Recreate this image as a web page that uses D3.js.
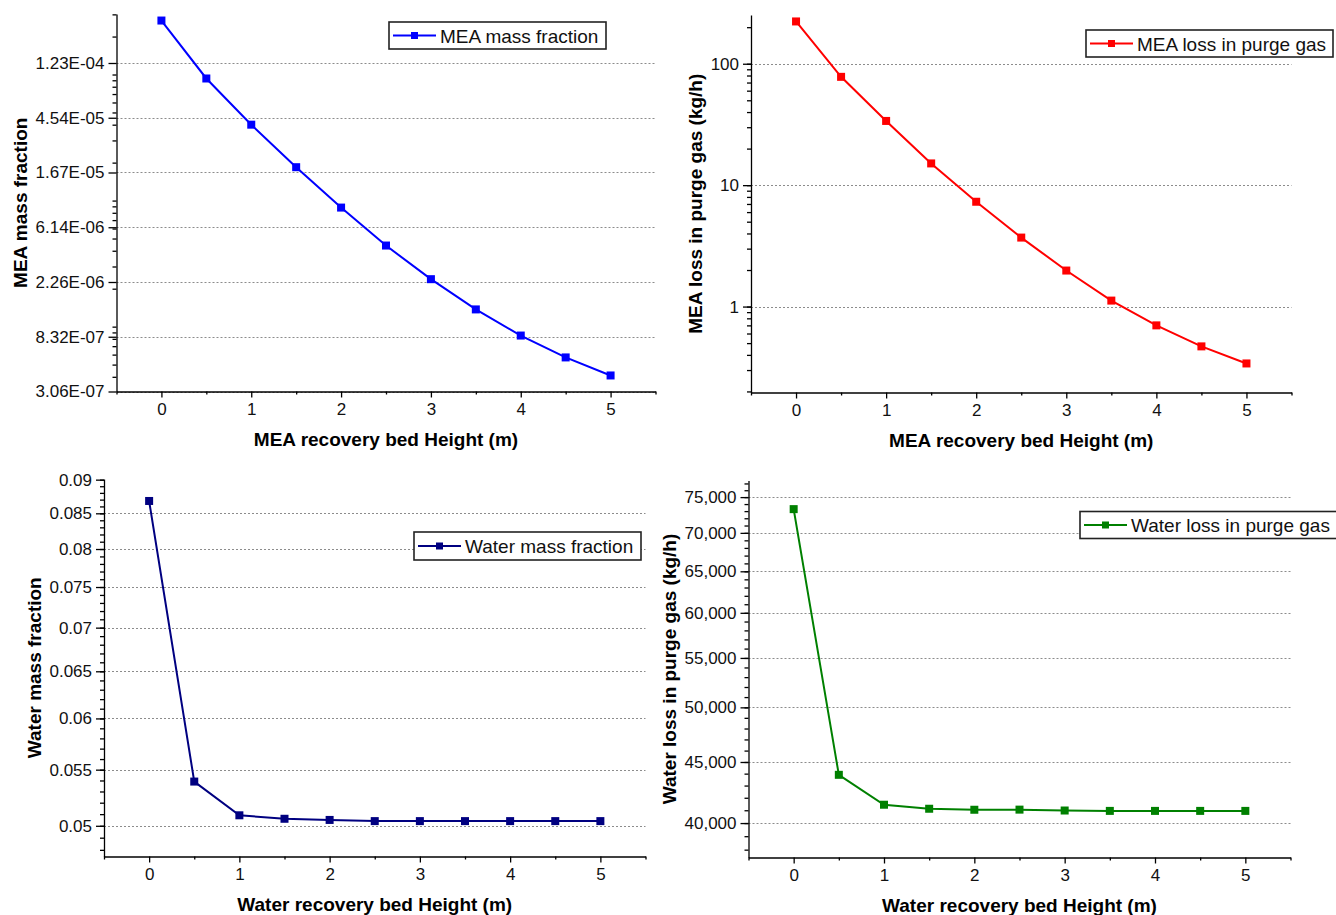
<!DOCTYPE html>
<html>
<head>
<meta charset="utf-8">
<script src="https://cdn.jsdelivr.net/npm/d3@7"></script>
<style>
  body { margin: 0; background: #fff; }
  svg { display: block; font-family: 'Liberation Sans', Arial, sans-serif; }
</style>
</head>
<body>
<div id="graphic"></div>
<script>
'use strict';

// bed heights (m), shared by all four panels
const bedHeight = [0, 0.5, 1, 1.5, 2, 2.5, 3, 3.5, 4, 4.5, 5];

// series
const meaMassFraction = [2.68e-4, 9.3e-5, 4.0e-5, 1.84e-5, 8.8e-6, 4.4e-6, 2.38e-6, 1.37e-6, 8.5e-7, 5.7e-7, 4.1e-7];
const meaLoss = [223, 78, 33.8, 15.1, 7.3, 3.7, 1.98, 1.12, 0.7, 0.47, 0.34];
const waterMassFraction = [0.0868, 0.0539, 0.0509, 0.0506, 0.0505, 0.0504, 0.0504, 0.0504, 0.0504, 0.0504, 0.0504];
const waterLoss = [73280, 43900, 41440, 41120, 41040, 41050, 40980, 40950, 40950, 40950, 40950];

// tick values
const xTicks = [0, 1, 2, 3, 4, 5];
const meaFracTicks = [-15, -14, -13, -12, -11, -10, -9].map(Math.exp); // e^n, as the original axis
const meaLossTicks = [1, 10, 100];
const waterFracTicks = [0.05, 0.055, 0.06, 0.065, 0.07, 0.075, 0.08, 0.085, 0.09];
const waterLossTicks = [40000, 45000, 50000, 55000, 60000, 65000, 70000, 75000];

const width = 1336;
const height = 915;

const svg = d3
  .select('#graphic')
  .append('svg')
  .attr('width', width)
  .attr('height', height)
  .attr('viewBox', [0, 0, width, height]);

svg.append('rect').attr('width', width).attr('height', height).attr('fill', '#fff');

const expFormat = (v) => {
  const [m, e] = v.toExponential(2).split('e');
  const n = Math.abs(+e);
  return `${m}E${+e < 0 ? '-' : '+'}${n < 10 ? '0' + n : n}`;
};

// 1..9 x 10^k minor ticks inside a log domain
const logMinor = (lo, hi) => {
  const out = [];
  for (let k = Math.floor(Math.log10(lo)); k <= Math.ceil(Math.log10(hi)); k++) {
    for (let m = 1; m < 10; m++) {
      const v = m * Math.pow(10, k);
      if (v >= lo && v <= hi) out.push(v);
    }
  }
  return out;
};

const stepMinor = (lo, hi, step) => {
  const out = [];
  for (let i = Math.ceil(lo / step); i * step <= hi; i++) out.push(+(i * step).toPrecision(6));
  return out;
};

const panels = [
  {
    values: meaMassFraction,
    color: '#0000ff',
    legend: 'MEA mass fraction',
    xTitle: 'MEA recovery bed Height (m)',
    yTitle: 'MEA mass fraction',
    left: 116.5, right: 655.5, top: 14, bottom: 391.5,
    yDomain: [Math.exp(-15), 3.02e-4],
    yTicks: meaFracTicks,
    yMinor: logMinor(Math.exp(-15), 3.02e-4),
    yFormat: expFormat,
    yTitleOffset: 90,
    legendBox: [389, 22, 217, 27]
  },
  {
    values: meaLoss,
    color: '#ff0000',
    legend: 'MEA loss in purge gas',
    xTitle: 'MEA recovery bed Height (m)',
    yTitle: 'MEA loss in purge gas (kg/h)',
    left: 751, right: 1291.5, top: 15, bottom: 392.5,
    yDomain: [0.196, 252],
    yTicks: meaLossTicks,
    yMinor: logMinor(0.196, 252),
    yFormat: (v) => String(v),
    yTitleOffset: 49,
    legendBox: [1086, 30, 247, 27]
  },
  {
    values: waterMassFraction,
    color: '#000080',
    legend: 'Water mass fraction',
    xTitle: 'Water recovery bed Height (m)',
    yTitle: 'Water mass fraction',
    left: 104, right: 645.5, top: 479, bottom: 856.5,
    yDomain: [0.04746, 0.0901],
    yTicks: waterFracTicks,
    yMinor: stepMinor(0.04746, 0.0901, 0.001),
    yFormat: (v) => String(v),
    yTitleOffset: 63,
    legendBox: [414, 532, 227, 28]
  },
  {
    values: waterLoss,
    color: '#008000',
    legend: 'Water loss in purge gas',
    xTitle: 'Water recovery bed Height (m)',
    yTitle: 'Water loss in purge gas (kg/h)',
    left: 748.5, right: 1290.5, top: 480.5, bottom: 857.5,
    yDomain: [37430, 77440],
    yTicks: waterLossTicks,
    yMinor: stepMinor(37430, 77440, 1000),
    yFormat: d3.format(','),
    yTitleOffset: 73,
    legendBox: [1080, 511.5, 262, 27]
  }
];

const drawPanel = (p) => {
  const x = d3.scaleLinear().domain([-0.5, 5.5]).range([p.left, p.right]);
  const y = d3.scaleLog().domain(p.yDomain).range([p.bottom, p.top]);
  const g = svg.append('g');

  // grid
  g.append('g')
    .selectAll('line')
    .data(p.yTicks.filter((v) => y(v) > p.top + 3))
    .join('line')
    .attr('x1', p.left)
    .attr('x2', p.right)
    .attr('y1', (d) => Math.round(y(d)) + 0.5)
    .attr('y2', (d) => Math.round(y(d)) + 0.5)
    .attr('stroke', '#8c8c8c')
    .attr('stroke-width', 1)
    .attr('stroke-dasharray', '2,2');

  // x axis, minor then major
  g.append('g')
    .attr('transform', `translate(0,${p.bottom})`)
    .call(d3.axisBottom(x).tickValues([-0.5, 0.5, 1.5, 2.5, 3.5, 4.5, 5.5]).tickSize(3).tickSizeOuter(0).tickFormat(''))
    .call((a) => a.selectAll('line,path').attr('stroke', '#000').attr('stroke-width', 1.3));
  g.append('g')
    .attr('transform', `translate(0,${p.bottom})`)
    .call(d3.axisBottom(x).tickValues(xTicks).tickSize(6).tickPadding(5).tickSizeOuter(0).tickFormat(d3.format('d')))
    .call((a) => a.select('.domain').remove())
    .call((a) => a.selectAll('line').attr('stroke', '#000').attr('stroke-width', 1.3))
    .call((a) => a.selectAll('text').attr('font-size', 17).attr('fill', '#111').attr('font-family', null));

  // y axis
  g.append('g')
    .attr('transform', `translate(${p.left},0)`)
    .call(d3.axisLeft(y).tickValues(p.yMinor).tickSize(4).tickSizeOuter(0).tickFormat(''))
    .call((a) => a.selectAll('line,path').attr('stroke', '#000').attr('stroke-width', 1.3));
  g.append('g')
    .attr('transform', `translate(${p.left},0)`)
    .call(d3.axisLeft(y).tickValues(p.yTicks).tickSize(8).tickPadding(4).tickFormat(p.yFormat))
    .call((a) => a.select('.domain').remove())
    .call((a) => a.selectAll('line').attr('stroke', '#000').attr('stroke-width', 1.3))
    .call((a) => a.selectAll('text').attr('font-size', 17).attr('fill', '#111').attr('font-family', null));

  // axis titles
  g.append('text')
    .attr('x', (p.left + p.right) / 2)
    .attr('y', p.bottom + 54)
    .attr('text-anchor', 'middle')
    .attr('font-size', 19)
    .attr('font-weight', 'bold')
    .text(p.xTitle);
  g.append('text')
    .attr('transform', `translate(${p.left - p.yTitleOffset},${(p.top + p.bottom) / 2}) rotate(-90)`)
    .attr('text-anchor', 'middle')
    .attr('font-size', 19)
    .attr('font-weight', 'bold')
    .text(p.yTitle);

  // series
  const line = d3
    .line()
    .x((d, i) => x(bedHeight[i]))
    .y((d) => y(d));
  g.append('path')
    .datum(p.values)
    .attr('fill', 'none')
    .attr('stroke', p.color)
    .attr('stroke-width', 2)
    .attr('d', line);
  g.append('g')
    .selectAll('rect')
    .data(p.values)
    .join('rect')
    .attr('x', (d, i) => x(bedHeight[i]) - 4)
    .attr('y', (d) => y(d) - 4)
    .attr('width', 8)
    .attr('height', 8)
    .attr('fill', p.color);

  // legend
  const [lx, ly, lw, lh] = p.legendBox;
  const lg = g.append('g');
  lg.append('rect')
    .attr('x', lx)
    .attr('y', ly)
    .attr('width', lw)
    .attr('height', lh)
    .attr('fill', '#fff')
    .attr('stroke', '#222')
    .attr('stroke-width', 1.6);
  const cy = ly + lh / 2;
  lg.append('line')
    .attr('x1', lx + 4)
    .attr('x2', lx + 47)
    .attr('y1', cy)
    .attr('y2', cy)
    .attr('stroke', p.color)
    .attr('stroke-width', 2);
  lg.append('rect')
    .attr('x', lx + 22)
    .attr('y', cy - 3.5)
    .attr('width', 7)
    .attr('height', 7)
    .attr('fill', p.color);
  lg.append('text')
    .attr('x', lx + 51)
    .attr('y', cy + 7)
    .attr('font-size', 19)
    .attr('fill', '#111')
    .text(p.legend);
};

panels.forEach(drawPanel);
</script>
</body>
</html>
